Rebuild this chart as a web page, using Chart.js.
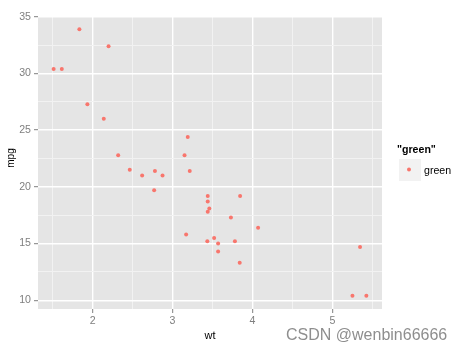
<!DOCTYPE html>
<html>
<head>
<meta charset="utf-8">
<script src="https://cdn.jsdelivr.net/npm/chart.js@4.4.1/dist/chart.umd.min.js"></script>
<style>
  html, body { margin: 0; padding: 0; background: #fff; }
  #wrap { width: 464px; height: 350px; }
</style>
</head>
<body>
<div id="wrap"><canvas id="myChart" width="464" height="350"></canvas></div>
<script>
// mtcars: weight (1000 lbs) vs miles per gallon
const wt = [2.620, 2.875, 2.320, 3.215, 3.440, 3.460, 3.570, 3.190, 3.150, 3.440, 3.440,
  4.070, 3.730, 3.780, 5.250, 5.424, 5.345, 2.200, 1.615, 1.835, 2.465, 3.520,
  3.435, 3.840, 3.845, 1.935, 2.140, 1.513, 3.170, 2.770, 3.570, 2.780]
const mpg = [21.0, 21.0, 22.8, 21.4, 18.7, 18.1, 14.3, 24.4, 22.8, 19.2, 17.8,
  16.4, 17.3, 15.2, 10.4, 10.4, 14.7, 32.4, 30.4, 33.9, 21.5, 15.5,
  15.2, 13.3, 19.2, 27.3, 26.0, 30.4, 15.8, 19.7, 15.0, 21.4]

const xMajor = [2, 3, 4, 5]
const xMinor = [1.5, 2.5, 3.5, 4.5, 5.5]
const yMajor = [10, 15, 20, 25, 30, 35]
const yMinor = [12.5, 17.5, 22.5, 27.5, 32.5]

const seriesName = 'green'
const pointColor = '#F8766D'

// ggplot-style 5% expansion
const expand = (arr) => {
  const lo = Math.min(...arr), hi = Math.max(...arr)
  const pad = (hi - lo) * 0.05
  return [lo - pad, hi + pad]
}
const [xMin, xMax] = expand(wt)
const [yMin, yMax] = expand(mpg)

const points = wt.map((w, i) => ({ x: w, y: mpg[i] }))

const tickFont = { family: 'Liberation Sans, Arial, sans-serif', size: 10.6 }

function axisOpts(min, max, major, minor, isX) {
  return {
    type: 'linear',
    min: min,
    max: max,
    afterBuildTicks: (s) => {
      s.ticks = major.concat(minor).sort((a, b) => a - b).map(v => ({ value: v }))
    },
    afterFit: (s) => {
      if (isX) s.height = 41
      else s.width = 38
    },
    border: { display: false },
    grid: {
      color: (c) => (c.tick && major.includes(c.tick.value)) ? '#FFFFFF' : '#F2F2F2',
      lineWidth: (c) => (c.tick && major.includes(c.tick.value)) ? 1.4 : 1,
      tickColor: (c) => (c.tick && major.includes(c.tick.value)) ? '#7F7F7F' : 'rgba(0,0,0,0)',
      tickWidth: 1,
      tickLength: 4,
      drawTicks: true
    },
    ticks: {
      autoSkip: false,
      maxRotation: 0,
      padding: isX ? 2 : 3,
      color: '#7F7F7F',
      font: tickFont,
      callback: (v) => major.includes(v) ? String(v) : ''
    }
  }
}

const ggDecor = {
  id: 'ggDecor',
  beforeDraw(chart) {
    const { ctx, chartArea: a } = chart
    ctx.save()
    ctx.fillStyle = '#E5E5E5'
    ctx.fillRect(a.left, a.top, a.right - a.left, a.bottom - a.top)
    ctx.restore()
  },
  afterDraw(chart) {
    const { ctx, chartArea: a } = chart
    ctx.save()
    // axis titles
    ctx.fillStyle = '#000'
    ctx.font = '11px "Liberation Sans", Arial, sans-serif'
    ctx.textAlign = 'center'
    ctx.textBaseline = 'alphabetic'
    ctx.fillText('wt', (a.left + a.right) / 2, 339)
    ctx.save()
    ctx.translate(14, 158)
    ctx.rotate(-Math.PI / 2)
    ctx.font = '10px "Liberation Sans", Arial, sans-serif'
    ctx.fillText('mpg', 0, 0)
    ctx.restore()

    // legend
    ctx.textAlign = 'left'
    ctx.font = 'bold 10.6px "Liberation Sans", Arial, sans-serif'
    ctx.fillText('"' + seriesName + '"', 397, 153)
    ctx.fillStyle = '#F2F2F2'
    ctx.fillRect(399, 159, 22, 22)
    ctx.fillStyle = pointColor
    ctx.beginPath()
    ctx.arc(409, 169.5, 2, 0, Math.PI * 2)
    ctx.fill()
    ctx.fillStyle = '#000'
    ctx.font = '10.6px "Liberation Sans", Arial, sans-serif'
    ctx.fillText(seriesName, 424, 174)

    // watermark
    ctx.font = '16px "Liberation Sans", Arial, sans-serif'
    ctx.lineWidth = 2
    ctx.strokeStyle = 'rgba(255,255,255,0.8)'
    ctx.strokeText('CSDN @wenbin66666', 286, 340)
    ctx.fillStyle = '#8E8E8E'
    ctx.fillText('CSDN @wenbin66666', 286, 340)
    ctx.restore()
  }
}

const ctx = document.getElementById('myChart')
// eslint-disable-next-line no-unused-vars
const myChart = new Chart(ctx, {
  type: 'scatter',
  data: {
    datasets: [{
      label: seriesName,
      data: points,
      pointRadius: 2,
      pointHoverRadius: 2,
      pointBorderWidth: 0,
      backgroundColor: pointColor,
      borderColor: pointColor
    }]
  },
  options: {
    responsive: false,
    animation: false,
    layout: { padding: { left: 0, top: 16, right: 82, bottom: 0 } },
    scales: {
      x: axisOpts(xMin, xMax, xMajor, xMinor, true),
      y: axisOpts(yMin, yMax, yMajor, yMinor, false)
    },
    plugins: {
      legend: { display: false },
      tooltip: { enabled: false }
    }
  },
  plugins: [ggDecor]
})
</script>
</body>
</html>
